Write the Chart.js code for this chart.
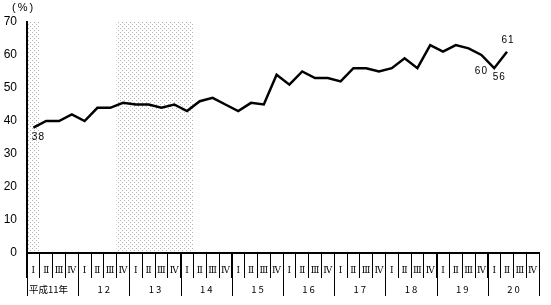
<!DOCTYPE html>
<html>
<head>
<meta charset="utf-8">
<script src="https://cdn.jsdelivr.net/npm/chart.js@4/dist/chart.umd.min.js"></script>
<style>
  html, body { margin: 0; padding: 0; background: #fff; }
  #wrap { width: 551px; height: 305px; }
</style>
</head>
<body>
<div id="wrap"><canvas id="graph"></canvas></div>
<script>
// 四半期ラベル (平成11年Ⅰ期 〜 平成20年Ⅳ期)
const quarterNames = ['Ⅰ', 'Ⅱ', 'Ⅲ', 'Ⅳ'];
const yearLabels = ['平成11年', '12', '13', '14', '15', '16', '17', '18', '19', '20'];
const quarterLabels = yearLabels.flatMap(() => quarterNames);

// 値 (%) : 平成20年Ⅱ期まで
const values = [38, 40, 40, 42, 40, 44, 44, 45.5, 45, 45, 44, 45, 43, 46, 47, 45, 43, 45.5, 45,
  54, 51, 55, 53, 53, 52, 56, 56, 55, 56, 59, 56, 63, 61, 63, 62, 60, 56, 61];

// 網掛け部分 (四半期インデックスの開始・終了)
const shadedStart = [0, 7];
const shadedEnd = [0, 12];

// 数値を表示する点
const labelledPoints = [0, 35, 36, 37];

const yMin = 0, yMax = 70, yStep = 10;

// 点模様
function dotPattern(ctx) {
  const c = document.createElement('canvas');
  c.width = 4; c.height = 4;
  const p = c.getContext('2d');
  p.fillStyle = '#b4b4b4';
  p.fillRect(0, 0, 1, 1);
  p.fillRect(2, 2, 1, 1);
  return ctx.createPattern(c, 'repeat');
}

function boundary(xs, i) {
  const half = (xs.getPixelForValue(1) - xs.getPixelForValue(0)) / 2;
  if (i >= quarterLabels.length) return xs.getPixelForValue(quarterLabels.length - 1) + half;
  return xs.getPixelForValue(i) - half;
}

const shadePlugin = {
  id: 'shade',
  beforeDraw(chart) {
    const { ctx, chartArea, scales } = chart;
    ctx.save();
    ctx.fillStyle = dotPattern(ctx);
    shadedStart.forEach((s, k) => {
      const x0 = boundary(scales.x, s);
      const x1 = boundary(scales.x, shadedEnd[k] + 1);
      ctx.fillRect(x0, chartArea.top, x1 - x0, chartArea.bottom - chartArea.top);
    });
    ctx.restore();
  }
};

const yearPlugin = {
  id: 'years',
  afterDraw(chart) {
    const { ctx, chartArea, scales } = chart;
    const xs = scales.x;
    ctx.save();
    ctx.strokeStyle = '#000';
    ctx.lineWidth = 1;
    for (let i = 0; i <= quarterLabels.length; i += 4) {
      const x = Math.round(boundary(xs, i)) + 0.5;
      ctx.beginPath();
      ctx.moveTo(x, chartArea.bottom);
      ctx.lineTo(x, chartArea.bottom + 43);
      ctx.stroke();
    }
    ctx.fillStyle = '#000';
    ctx.textBaseline = 'middle';
    ctx.font = '9.5px "Noto Sans CJK JP"';
    yearLabels.forEach((lab, k) => {
      const x0 = boundary(xs, k * 4);
      const x1 = boundary(xs, k * 4 + 4);
      if (k === 0) {
        ctx.textAlign = 'left';
        ctx.letterSpacing = '0px';
        ctx.fillText(lab, x0 + 2, chartArea.bottom + 36);
      } else {
        ctx.textAlign = 'center';
        ctx.letterSpacing = '2px';
        ctx.fillText(lab, (x0 + x1) / 2 + 1, chartArea.bottom + 36);
      }
    });
    // 単位
    ctx.letterSpacing = '2px';
    ctx.textAlign = 'left';
    ctx.font = '11px "Liberation Sans"';
    ctx.fillText('(%)', 12, 8);
    ctx.restore();
  }
};

const offsets = { 0: [5, 10], 35: [0, 16], 36: [5, 9], 37: [1, -11] };
const valueLabelPlugin = {
  id: 'valueLabels',
  afterDatasetsDraw(chart) {
    const { ctx } = chart;
    const meta = chart.getDatasetMeta(0);
    ctx.save();
    ctx.fillStyle = '#000';
    ctx.font = '10px "Liberation Sans"';
    ctx.letterSpacing = '1px';
    ctx.textAlign = 'center';
    ctx.textBaseline = 'middle';
    labelledPoints.forEach(i => {
      const pt = meta.data[i];
      const o = offsets[i];
      ctx.fillText(String(values[i]), pt.x + o[0], pt.y + o[1]);
    });
    ctx.restore();
  }
};

const ctx = document.getElementById('graph').getContext('2d');
new Chart(ctx, {
  type: 'line',
  data: {
    labels: quarterLabels,
    datasets: [{
      data: values,
      borderColor: '#000',
      borderWidth: 2.5,
      pointRadius: 0,
      tension: 0,
      fill: false
    }]
  },
  options: {
    responsive: true,
    maintainAspectRatio: false,
    animation: false,
    layout: { padding: { top: 22, right: 12, left: 0, bottom: 0 } },
    plugins: { legend: { display: false }, tooltip: { enabled: false } },
    scales: {
      x: {
        type: 'category',
        offset: true,
        afterFit: s => { s.height = 52; },
        grid: {
          display: true,
          offset: true,
          drawOnChartArea: false,
          drawTicks: true,
          tickLength: 25,
          color: '#000',
          tickColor: '#000',
          lineWidth: 1
        },
        border: { display: true, color: '#000', width: 2 },
        ticks: {
          autoSkip: false,
          maxRotation: 0,
          padding: -13,
          color: '#000',
          font: { family: '"DejaVu Serif", "Noto Sans CJK JP"', size: 9 }
        }
      },
      y: {
        min: yMin,
        max: yMax,
        afterFit: s => { s.width = 27; },
        grid: { display: false, drawTicks: false },
        border: { display: true, color: '#000', width: 2 },
        ticks: {
          stepSize: yStep,
          padding: 10,
          color: '#000',
          font: { family: '"Liberation Sans"', size: 12 }
        }
      }
    }
  },
  plugins: [shadePlugin, yearPlugin, valueLabelPlugin]
});
</script>
</body>
</html>
